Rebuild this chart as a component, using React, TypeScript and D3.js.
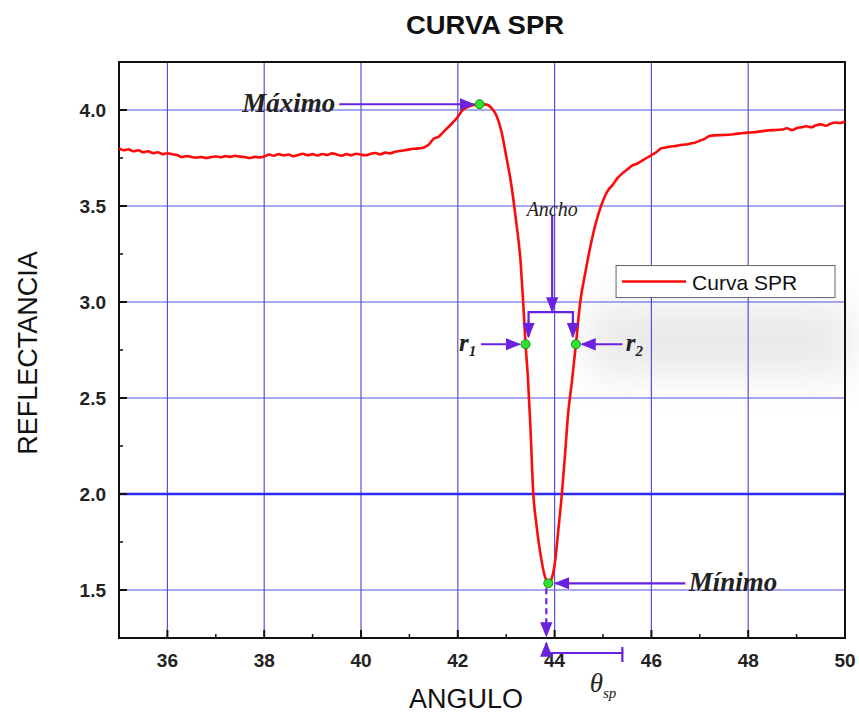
import React from 'react'
import * as d3 from 'd3'

const WIDTH = 859
const HEIGHT = 715
const MARGIN = { top: 62, right: 14, bottom: 77, left: 119 }

// measured curve
const angles = [
  35.0, 35.1, 35.2, 35.3, 35.4, 35.5, 35.6, 35.7, 35.8, 35.9,
  36.0, 36.1, 36.2, 36.3, 36.4, 36.5, 36.6, 36.7, 36.8, 36.9,
  37.0, 37.1, 37.2, 37.3, 37.4, 37.5, 37.6, 37.7, 37.8, 37.9,
  38.0, 38.1, 38.2, 38.3, 38.4, 38.5, 38.6, 38.7, 38.8, 38.9,
  39.0, 39.1, 39.2, 39.3, 39.4, 39.5, 39.6, 39.7, 39.8, 39.9,
  40.0, 40.1, 40.2, 40.3, 40.4, 40.5, 40.6, 40.7, 40.8, 40.9,
  41.0, 41.1, 41.2, 41.3, 41.4, 41.5, 41.6, 41.7, 41.8, 41.9,
  42.0, 42.1, 42.2, 42.3, 42.4, 42.5, 42.6, 42.7, 42.8, 42.9,
  43.0, 43.1, 43.2, 43.3, 43.35, 43.4, 43.45, 43.5, 43.56, 43.62,
  43.7, 43.8, 43.87, 43.94, 44.0, 44.08, 44.15, 44.22, 44.28, 44.36,
  44.44, 44.53, 44.64, 44.74, 44.85, 44.96, 45.1, 45.2, 45.3, 45.4,
  45.5, 45.6, 45.7, 45.8, 45.9, 46.0, 46.1, 46.2, 46.3, 46.4,
  46.5, 46.6, 46.7, 46.8, 46.9, 47.0, 47.1, 47.2, 47.3, 47.5,
  47.7, 47.9, 48.1, 48.3, 48.5, 48.7, 48.8, 48.9, 49.0, 49.1,
  49.2, 49.3, 49.4, 49.5, 49.6, 49.7, 49.8, 49.9, 50.0
]
const reflectance = [
  3.8, 3.79, 3.795, 3.785, 3.79, 3.78, 3.785, 3.775, 3.78, 3.77,
  3.775, 3.77, 3.765, 3.755, 3.76, 3.755, 3.752, 3.755, 3.75, 3.755,
  3.758, 3.754, 3.76, 3.756, 3.762, 3.757, 3.755, 3.75, 3.756, 3.753,
  3.758, 3.768, 3.762, 3.77, 3.764, 3.768, 3.76, 3.766, 3.772, 3.765,
  3.77, 3.763, 3.771, 3.766, 3.774, 3.768, 3.762, 3.77, 3.765, 3.772,
  3.767, 3.764, 3.772, 3.776, 3.769, 3.778, 3.774, 3.782, 3.786, 3.79,
  3.795, 3.798, 3.8, 3.805, 3.82, 3.85, 3.86, 3.885, 3.91, 3.935,
  3.965, 4.0, 4.015, 4.025, 4.028, 4.03, 4.028, 4.01, 3.97, 3.89,
  3.76, 3.62, 3.43, 3.2, 3.0, 2.78, 2.6, 2.35, 2.0, 1.85,
  1.7, 1.57, 1.535, 1.56, 1.63, 1.82, 2.0, 2.22, 2.42, 2.59,
  2.78, 3.0, 3.16, 3.29, 3.41, 3.5, 3.58, 3.61, 3.645, 3.67,
  3.69, 3.71, 3.72, 3.735, 3.75, 3.765, 3.78, 3.8, 3.805, 3.81,
  3.812, 3.818, 3.82, 3.825, 3.83, 3.84, 3.85, 3.865, 3.868, 3.87,
  3.874, 3.88, 3.884, 3.89, 3.895, 3.898, 3.905, 3.895, 3.905, 3.91,
  3.915, 3.91, 3.92, 3.925, 3.918, 3.928, 3.935, 3.932, 3.94
]

// key points: maximo, r1, r2, minimo
const keyAngles = [42.45, 43.4, 44.44, 43.87]
const keyValues = [4.03, 2.78, 2.78, 1.535]

const xTicks = [36, 38, 40, 42, 44, 46, 48, 50]
const yTicks = [1.5, 2.0, 2.5, 3.0, 3.5, 4.0]

const PURPLE = '#6a22e0'
const GRID = '#5252dc'

const App = () => {
  const x = d3.scaleLinear().domain([35, 50]).range([MARGIN.left, WIDTH - MARGIN.right])
  const y = d3.scaleLinear().domain([1.25, 4.25]).range([HEIGHT - MARGIN.bottom, MARGIN.top])
  const x0 = MARGIN.left
  const x1 = WIDTH - MARGIN.right
  const y0 = HEIGHT - MARGIN.bottom
  const y1 = MARGIN.top

  const line = d3
    .line<number>()
    .x((d, i) => x(angles[i]))
    .y(d => y(d))
    .curve(d3.curveMonotoneX)

  const minorX = d3.range(35, 50.01, 1).filter(v => !xTicks.includes(v))
  const minorY = d3.range(1.25, 4.26, 0.25).filter(v => !yTicks.some(t => Math.abs(t - v) < 1e-6))

  const [mxA, r1A, r2A, mnA] = keyAngles
  const [mxV, r1V, r2V, mnV] = keyValues
  const bracketV = 2.947
  const tipV = 2.82

  return (
    <svg width={WIDTH} height={HEIGHT} style={{ position: 'absolute', left: 0, top: 0, background: '#fff' }}>
      <defs>
        <marker id="ah" viewBox="0 0 10 10" refX="9" refY="5" markerWidth="7" markerHeight="7" orient="auto-start-reverse">
          <path d="M0,1 L10,5 L0,9 z" fill={PURPLE} />
        </marker>
        <filter id="blur" x="-50%" y="-50%" width="200%" height="200%">
          <feGaussianBlur stdDeviation="20" />
        </filter>
      </defs>

      {/* soft photo shading */}
      <g filter="url(#blur)" opacity={0.16}>
        <rect x={590} y={305} width={260} height={70} fill="#777" />
      </g>

      {/* grid */}
      <g>
        {xTicks.filter(t => t < 50).map(t => (
          <line key={'gx' + t} x1={x(t)} x2={x(t)} y1={y1} y2={y0} stroke={GRID} strokeWidth={1.2} />
        ))}
        {yTicks.map(t => (
          <line key={'gy' + t} x1={x0} x2={x1} y1={y(t)} y2={y(t)} stroke={t === 2 ? '#2a2af0' : GRID} strokeWidth={t === 2 ? 2.5 : 1.2} />
        ))}
      </g>

      {/* frame and ticks */}
      <rect x={x0} y={y1} width={x1 - x0} height={y0 - y1} fill="none" stroke="#111" strokeWidth={2} />
      {xTicks.map(t => (
        <line key={'tx' + t} x1={x(t)} x2={x(t)} y1={y0} y2={y0 - 8} stroke="#111" strokeWidth={2} />
      ))}
      {minorX.map(t => (
        <line key={'mx' + t} x1={x(t)} x2={x(t)} y1={y0} y2={y0 - 4} stroke="#111" strokeWidth={1.5} />
      ))}
      {yTicks.map(t => (
        <line key={'ty' + t} x1={x0} x2={x0 + 8} y1={y(t)} y2={y(t)} stroke="#111" strokeWidth={2} />
      ))}
      {minorY.map(t => (
        <line key={'my' + t} x1={x0} x2={x0 + 4} y1={y(t)} y2={y(t)} stroke="#111" strokeWidth={1.5} />
      ))}

      <g fontFamily="Arial, 'Liberation Sans', sans-serif" fontWeight="bold" fontSize={19} fill="#222">
        {xTicks.map(t => (
          <text key={'lx' + t} x={x(t)} y={y0 + 29} textAnchor="middle">{t}</text>
        ))}
        {yTicks.map(t => (
          <text key={'ly' + t} x={x0 - 13} y={y(t) + 7} textAnchor="end">{t.toFixed(1)}</text>
        ))}
      </g>

      {/* curve */}
      <path d={line(reflectance) || ''} fill="none" stroke="#ff0a0a" strokeWidth={2.6} strokeLinejoin="round" />

      {/* annotations */}
      <g stroke={PURPLE} strokeWidth={2.2} fill="none">
        <line x1={x(39.55)} x2={x(mxA) - 6} y1={y(mxV)} y2={y(mxV)} markerEnd="url(#ah)" />
        <line x1={x(43.95)} x2={x(43.95)} y1={y(3.45)} y2={y(bracketV) - 1} markerEnd="url(#ah)" />
        <polyline points={`${x(r1A) + 3},${y(tipV)} ${x(r1A) + 3},${y(bracketV)} ${x(r2A) - 3},${y(bracketV)} ${x(r2A) - 3},${y(tipV)}`} />
        <line x1={x(r1A) + 3} x2={x(r1A) + 3} y1={y(2.9)} y2={y(tipV)} markerEnd="url(#ah)" />
        <line x1={x(r2A) - 3} x2={x(r2A) - 3} y1={y(2.9)} y2={y(tipV)} markerEnd="url(#ah)" />
        <line x1={x(42.48)} x2={x(r1A) - 6} y1={y(r1V)} y2={y(r1V)} markerEnd="url(#ah)" />
        <line x1={x(45.4)} x2={x(r2A) + 6} y1={y(r2V)} y2={y(r2V)} markerEnd="url(#ah)" />
        <line x1={x(46.7)} x2={x(mnA) + 7} y1={y(mnV)} y2={y(mnV)} markerEnd="url(#ah)" />
        <line x1={x(mnA) - 2} x2={x(mnA) - 2} y1={y(mnV) + 5} y2={y0 - 2} strokeDasharray="6,4" markerEnd="url(#ah)" />
        <line x1={x(mnA) - 2} x2={x(mnA) - 2} y1={y0 + 15} y2={y0 + 5} markerEnd="url(#ah)" />
        <polyline points={`${x(mnA) - 2},${y0 + 15} ${x(45.4)},${y0 + 15} ${x(45.4)},${y0 + 24}`} />
        <line x1={x(45.4)} x2={x(45.4)} y1={y0 + 9} y2={y0 + 15} />
      </g>

      {keyAngles.map((a, i) => (
        <circle key={'k' + i} cx={x(a)} cy={y(keyValues[i])} r={4.5} fill="#2fe02f" stroke="#1a8a1a" strokeWidth={1} />
      ))}

      <g fontFamily="'Times New Roman', 'Liberation Serif', serif" fontStyle="italic" fill="#222">
        <text x={x(39.47)} y={y(mxV) + 8} textAnchor="end" fontSize={27} fontWeight="bold">Máximo</text>
        <text x={x(46.77)} y={y(mnV) + 8} fontSize={27} fontWeight="bold">Mínimo</text>
        <text x={x(43.95)} y={y(3.485) + 7} textAnchor="middle" fontSize={20}>Ancho</text>
        <text x={x(42.38)} y={y(r1V) + 7} textAnchor="end" fontSize={25} fontWeight="bold">
          r<tspan fontSize={15} dy={5}>1</tspan>
        </text>
        <text x={x(45.47)} y={y(r2V) + 7} fontSize={25} fontWeight="bold">
          r<tspan fontSize={15} dy={5}>2</tspan>
        </text>
        <text x={x(45.0)} y={y0 + 54} textAnchor="middle" fontSize={27}>
          θ<tspan fontSize={15} dy={6}>sp</tspan>
        </text>
      </g>

      {/* legend */}
      <g>
        <rect x={x(45.27)} y={y(3.19)} width={x(50) - x(45.27) - 10} height={32} fill="#fff" stroke="#666" strokeWidth={1} />
        <line x1={x(45.27) + 6} x2={x(45.27) + 70} y1={y(3.19) + 16} y2={y(3.19) + 16} stroke="#ff0a0a" strokeWidth={2.6} />
        <text x={x(45.27) + 76} y={y(3.19) + 24} fontFamily="Arial, 'Liberation Sans', sans-serif" fontSize={21} fill="#111">Curva SPR</text>
      </g>

      {/* titles */}
      <text x={485} y={34} textAnchor="middle" fontFamily="Arial, 'Liberation Sans', sans-serif" fontWeight="bold" fontSize={25} fill="#111" textLength={158} lengthAdjust="spacingAndGlyphs">CURVA SPR</text>
      <text x={(x0 + x1) / 2 - 16} y={708} textAnchor="middle" fontFamily="Arial, 'Liberation Sans', sans-serif" fontSize={27} fill="#111">ANGULO</text>
      <text transform={`translate(37,${(y0 + y1) / 2 + 3}) rotate(-90)`} textAnchor="middle" fontFamily="Arial, 'Liberation Sans', sans-serif" fontSize={27} fill="#111">REFLECTANCIA</text>
    </svg>
  )
}

export default App
